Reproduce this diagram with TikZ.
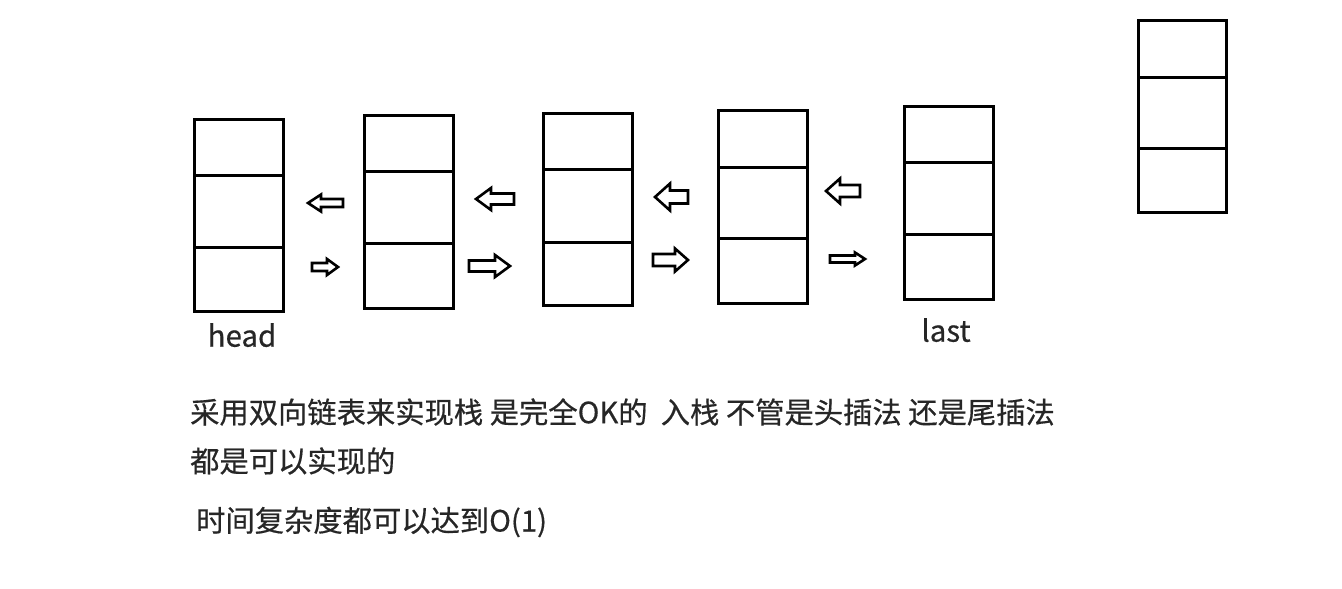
\documentclass[tikz,border=0pt]{standalone}
\usepackage{fontspec}
\setmainfont{Noto Sans CJK SC}[FakeBold=0.5]
\usetikzlibrary{positioning}

\tikzset{
    pics/rarrow/.style n args={4}{code={
        \draw[arrowline] (-#1/2,-#3/2) -- (#1/2-#4,-#3/2) -- (#1/2-#4,-#2/2) -- (#1/2,0)
            -- (#1/2-#4,#2/2) -- (#1/2-#4,#3/2) -- (-#1/2,#3/2) -- cycle;
    }}
}

\begin{document}
\begin{tikzpicture}[
        x=1pt, y=-1pt,
        stack/.style={draw, line width=3pt, minimum width=89pt, inner sep=0pt, anchor=north west},
        divider/.style={line width=3pt},
        arrowline/.style={line width=2.6pt, line join=miter},
        label/.style={font=\fontsize{29.5}{34}\selectfont, text=black!85, inner sep=0pt},
        note/.style={font=\fontsize{29.3}{34}\selectfont, text=black!85, anchor=west, inner sep=0pt}
    ]
    \useasboundingbox (0,0) rectangle (1342,589);

    % Node 1: head
    \node[stack, minimum height=192pt] (n1) at (193,118) {};
    \draw[divider] (n1.west |- 0,175) -- (n1.east |- 0,175);
    \draw[divider] (n1.west |- 0,247) -- (n1.east |- 0,247);

    % Node 2
    \node[stack, minimum height=193pt] (n2) at (363,114) {};
    \draw[divider] (n2.west |- 0,171) -- (n2.east |- 0,171);
    \draw[divider] (n2.west |- 0,243) -- (n2.east |- 0,243);

    % Node 3
    \node[stack, minimum height=192pt] (n3) at (542,112) {};
    \draw[divider] (n3.west |- 0,169) -- (n3.east |- 0,169);
    \draw[divider] (n3.west |- 0,242) -- (n3.east |- 0,242);

    % Node 4
    \node[stack, minimum height=193pt] (n4) at (717,109) {};
    \draw[divider] (n4.west |- 0,167) -- (n4.east |- 0,167);
    \draw[divider] (n4.west |- 0,238) -- (n4.east |- 0,238);

    % Node 5: last
    \node[stack, minimum height=193pt] (n5) at (903,105) {};
    \draw[divider] (n5.west |- 0,162) -- (n5.east |- 0,162);
    \draw[divider] (n5.west |- 0,234) -- (n5.east |- 0,234);

    % New node
    \node[stack, minimum height=192pt, minimum width=88pt] (n6) at (1137,19) {};
    \draw[divider] (n6.west |- 0,77) -- (n6.east |- 0,77);
    \draw[divider] (n6.west |- 0,148) -- (n6.east |- 0,148);

    % Labels
    \node[label, below=10pt of n1, xshift=3pt] (head) {head};
    \node[label, below=17pt of n5, xshift=-3pt] (last) {last};

    % Arrows: prev (left) and next (right)
    \pic[rotate=180] at (325.5,203) {rarrow={35}{17}{8}{13}};
    \pic at (325,267) {rarrow={26}{16}{8}{11}};
    \pic[rotate=180] at (495,199) {rarrow={38}{22}{11}{15}};
    \pic at (489.5,266) {rarrow={41}{22}{11}{15}};
    \pic[rotate=180] at (671.5,197) {rarrow={33}{27}{13}{15}};
    \pic at (670.5,260) {rarrow={35}{23}{12}{13}};
    \pic[rotate=180] at (843,191) {rarrow={34}{25}{12}{14}};
    \pic at (847.5,259) {rarrow={35}{13}{7}{10}};

    % Notes
    \node[note] (line1) at (190,412) {采用双向链表来实现栈 是完全OK的~~入栈 不管是头插法 还是尾插法};
    \node[note] (line2) at (190,461) {都是可以实现的};
    \node[note] (line3) at (196,522) {时间复杂度都可以达到O(1)};

\end{tikzpicture}
\end{document}
